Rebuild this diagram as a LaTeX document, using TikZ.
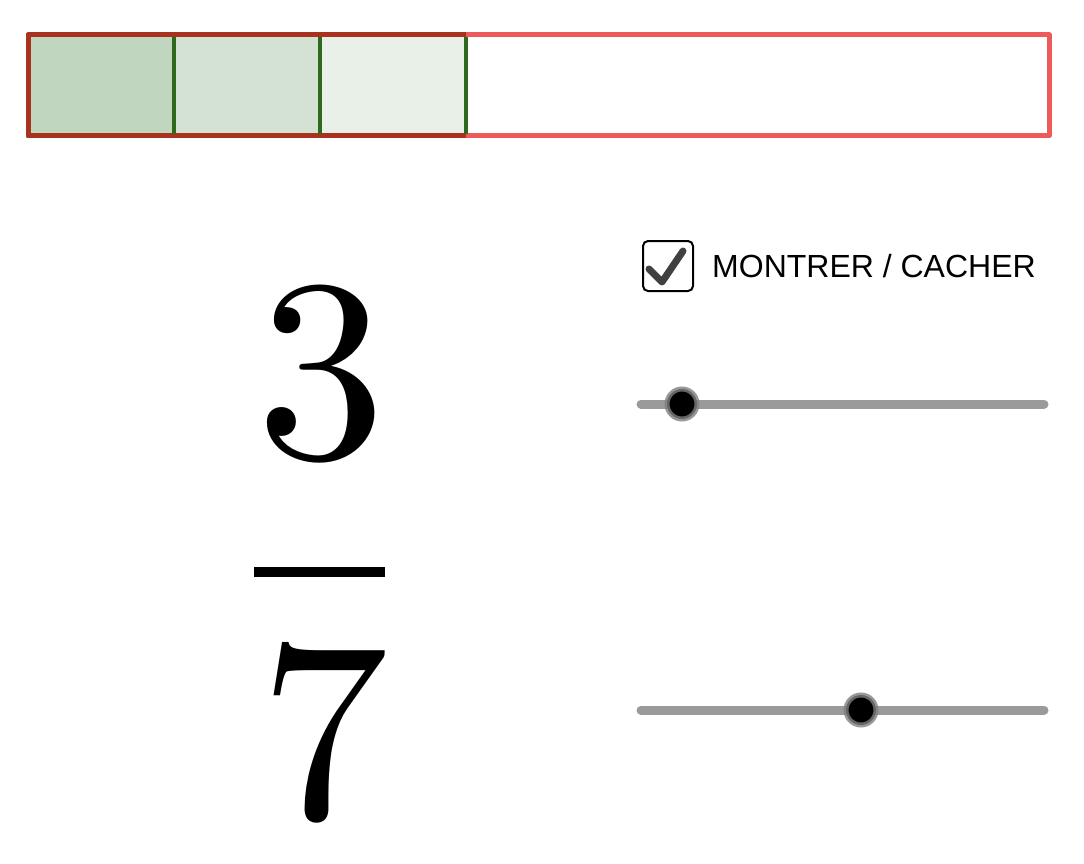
\documentclass[tikz,border=0pt]{standalone}
\usepackage{fontspec}
\newfontfamily\labelfont{Liberation Sans}
\newfontfamily\digitfont{lmroman10-regular.otf}
\usepackage{tikz}
\definecolor{barred}{HTML}{EE5A5A}
\definecolor{darkred}{HTML}{A8321E}
\definecolor{cellgreen}{HTML}{2D6A1E}
\definecolor{fillA}{HTML}{C0D6BE}
\definecolor{fillB}{HTML}{D3E2D2}
\definecolor{fillC}{HTML}{E8F0E7}
\definecolor{slidergray}{HTML}{9A9A9A}
\begin{document}
\begin{tikzpicture}[x=1pt,y=-1pt,
    track/.style={slidergray,line width=9pt,line cap=round},
    knob/.style={circle,draw=black!50,draw opacity=0.8,line width=5pt,fill=black,minimum size=30pt,inner sep=0pt}]
	\useasboundingbox (0,0) rectangle (1084,864);
	% bar of sevenths
	\draw[barred,line width=5pt,line join=round] (28,35) rectangle (1049,136);
	\fill[fillA] (28,35) rectangle (174,136);
	\fill[fillB] (174,35) rectangle (320,136);
	\fill[fillC] (320,35) rectangle (466,136);
	\draw[darkred,line width=5pt,line join=round] (466,35) -- (28,35) -- (28,136) -- (466,136);
	\foreach \x in {174,320,466}
		\draw[cellgreen,line width=4pt] (\x,37) -- (\x,134);
	% checkbox
	\node[draw,line width=2pt,rounded corners=5pt,minimum size=50pt,inner sep=0pt] (box) at (668,266) {};
	\draw[black!75,line width=7pt,line cap=round,line join=round] (649,269) -- (662,282) -- (683,251);
	\node[anchor=west,inner sep=0pt,font=\labelfont\fontsize{32}{32}\selectfont] (label) at (712,266) {MONTRER / CACHER};
	% fraction
	\node[inner sep=0pt,anchor=base,font=\digitfont\fontsize{259}{259}\selectfont] (num) at (321,457) {3};
	\draw[line width=10pt] (254,572) -- (385,572);
	\node[inner sep=0pt,anchor=base,font=\digitfont\fontsize{259}{259}\selectfont] (den) at (324,817) {7};
	% sliders
	\draw[track] (641,404) coordinate (s1a) -- (1044,404) coordinate (s1b);
	\node[knob] (k1) at (682,404) {};
	\draw[track] (641,710) coordinate (s2a) -- (1044,710) coordinate (s2b);
	\node[knob] (k2) at (861,710) {};
\end{tikzpicture}
\end{document}
